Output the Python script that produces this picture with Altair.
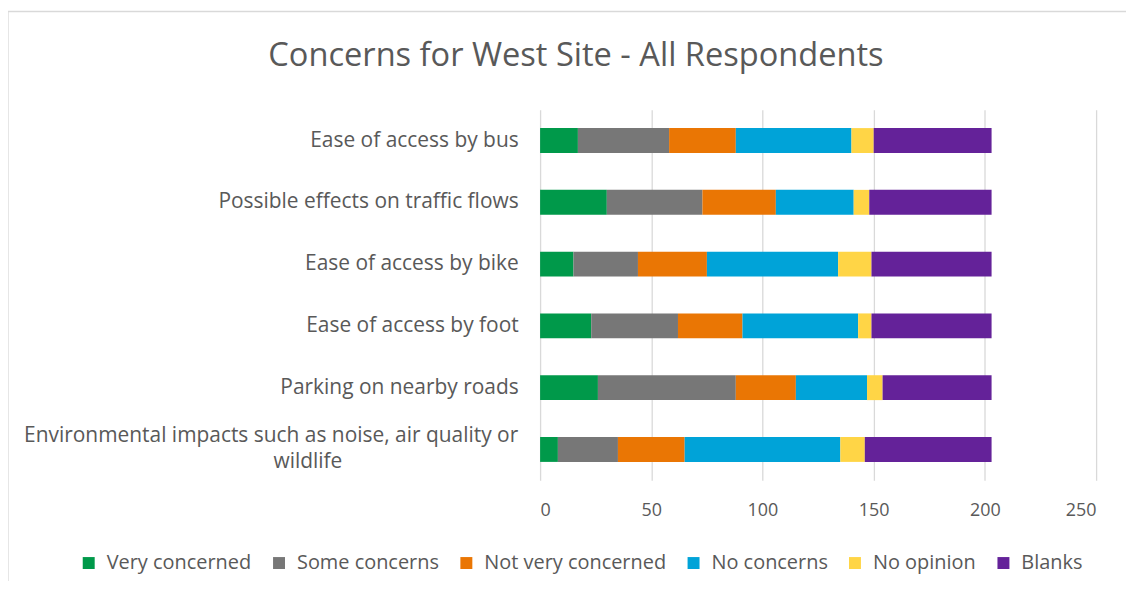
import altair as alt
import pandas as pd

categories = [
    "Ease of access by bus",
    "Possible effects on traffic flows",
    "Ease of access by bike",
    "Ease of access by foot ",
    "Parking on nearby roads",
    "Environmental impacts such as noise, air quality or wildlife",
]
responses = ["Very concerned", "Some concerns", "Not very concerned", "No concerns", "No opinion", "Blanks"]
colors = ["#00994A", "#777777", "#EA7604", "#00A3D8", "#FFD546", "#642299"]

very_concerned = [17, 30, 15, 23, 26, 8]
some_concerns = [41, 43, 29, 39, 62, 27]
not_very_concerned = [30, 33, 31, 29, 27, 30]
no_concerns = [52, 35, 59, 52, 32, 70]
no_opinion = [10, 7, 15, 6, 7, 11]
blanks = [53, 55, 54, 54, 49, 57]

title_text = ["Concerns for West Site - All Respondents"]
wrap_category = [categories[-1]]
wrap_line1 = ["Environmental impacts such as noise, air quality or"]
wrap_line2 = ["wildlife"]

series = [very_concerned, some_concerns, not_very_concerned, no_concerns, no_opinion, blanks]
rows = []
for ri, (resp, vals) in enumerate(zip(responses, series)):
    for cat, v in zip(categories, vals):
        rows.append({"category": cat, "response": resp, "value": v, "order": ri})
df = pd.DataFrame(rows)
df_title = pd.DataFrame({"t": title_text})
df_wrap = pd.DataFrame({"category": wrap_category, "l1": wrap_line1, "l2": wrap_line2})

FONT = "Open Sans"
TXT = "#595959"

label_expr = (
    "datum.value == 'Environmental impacts such as noise, air quality or wildlife' ? "
    "'' : datum.value"
)

y_enc = alt.Y("category:N", sort=categories, title=None,
              scale=alt.Scale(paddingInner=0.6, paddingOuter=0.3),
              axis=alt.Axis(labelExpr=label_expr, labelLimit=700, labelPadding=22,
                            ticks=False, domain=False, grid=False,
                            labelFontSize=21, labelColor=TXT, labelFont=FONT))

bars = alt.Chart(df).mark_bar(size=25).encode(
    y=y_enc,
    x=alt.X("value:Q", stack="zero", title=None,
            scale=alt.Scale(domain=[0, 250], nice=False),
            axis=alt.Axis(values=[0, 50, 100, 150, 200, 250], grid=True, gridColor="#D9D9D9",
                          gridWidth=1.3, domain=False, ticks=False, labelPadding=21,
                          labelFontSize=18, labelColor=TXT, labelFont=FONT)),
    color=alt.Color("response:N", sort=responses,
                    scale=alt.Scale(domain=responses, range=colors),
                    legend=alt.Legend(title=None, orient="none", direction="horizontal",
                                      legendX=-463, legendY=445, symbolType="square",
                                      symbolSize=144, symbolStrokeWidth=0, labelFontSize=20,
                                      labelColor=TXT, labelFont=FONT, labelOffset=8,
                                      columnPadding=17, labelLimit=400)),
    order=alt.Order("order:Q"),
)

wrap1 = alt.Chart(df_wrap).mark_text(
    font=FONT, fontSize=21, color=TXT, align="right", baseline="middle", dy=-13
).encode(
    y=alt.Y("category:N", sort=categories),
    x=alt.value(-22),
    text="l1:N",
)
wrap2 = alt.Chart(df_wrap).mark_text(
    font=FONT, fontSize=21, color=TXT, align="center", baseline="middle", dy=13
).encode(
    y=alt.Y("category:N", sort=categories),
    x=alt.value(-233),
    text="l2:N",
)

title = alt.Chart(df_title).mark_text(
    font=FONT, fontSize=32.7, color=TXT, align="center", baseline="middle"
).encode(
    x=alt.value(36), y=alt.value(-54), text="t:N"
)

border_top = alt.Chart(df_title).mark_rule(color="#D9D9D9", strokeWidth=1.3).encode(
    x=alt.value(-534), x2=alt.value(700), y=alt.value(-98.5)
)
border_left = alt.Chart(df_title).mark_rule(color="#D9D9D9", strokeWidth=1.3).encode(
    x=alt.value(-534), y=alt.value(-98.5), y2=alt.value(700)
)

chart = alt.layer(border_top, border_left, bars, wrap1, wrap2, title).properties(
    width=558, height=372,
    autosize=alt.AutoSizeParams(type="none"),
    padding={"left": 534, "top": 101, "right": 30, "bottom": 100},
).configure_view(stroke=None)

chart.save("out.html", embed_options={"renderer": "svg", "actions": False})
